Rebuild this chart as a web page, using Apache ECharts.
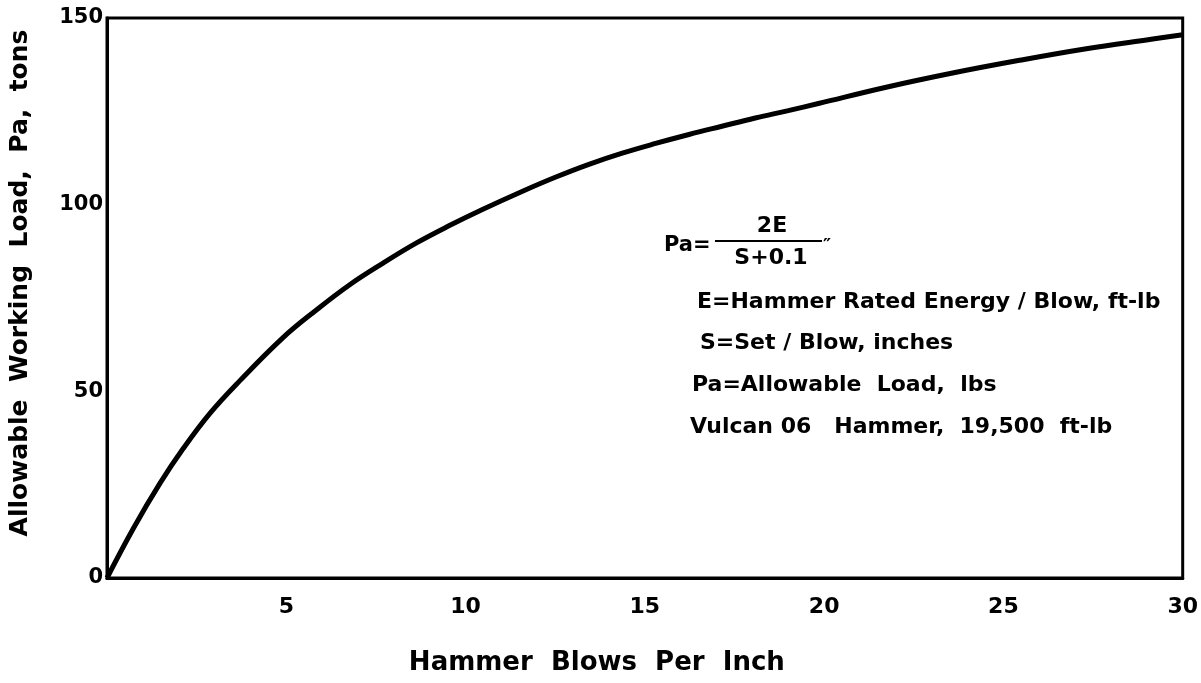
<!DOCTYPE html>
<html>
<head>
<meta charset="utf-8">
<script src="https://cdn.jsdelivr.net/npm/echarts@6/dist/echarts.min.js"></script>
<style>
html, body { margin: 0; padding: 0; background: #fff; }
#chart { width: 1201px; height: 683px; }
</style>
</head>
<body>
<div id="chart"></div>
<script>
// curve: blows per inch -> allowable load (tons)
var blows = [0, 0.73, 1.48, 2.12, 2.87, 3.7, 4.91, 5.84, 6.76, 7.69, 8.62, 9.55, 10.47, 11.59, 12.52, 13.44, 14.37, 15.3, 16.23, 17.15, 18.08, 19.0, 19.84, 21.7, 23.55, 25.41, 27.27, 29.12, 30];
var loadTons = [0, 13.2, 25.4, 34.6, 44.1, 52.8, 64.4, 71.8, 78.5, 84.3, 89.7, 94.4, 98.7, 103.6, 107.4, 110.8, 113.8, 116.4, 118.8, 121.0, 123.2, 125.2, 127.1, 131.4, 135.2, 138.6, 141.7, 144.3, 145.5];
var xTicks = [5, 10, 15, 20, 25, 30];
var yTicks = [0, 50, 100, 150];

var noteLines = [
    'E=Hammer Rated Energy / Blow, ft-lb',
    'S=Set / Blow, inches',
    'Pa=Allowable  Load,  lbs',
    'Vulcan 06   Hammer,  19,500  ft-lb'
];

var pts = [];
for (var i = 0; i < blows.length; i++) {
    pts.push([blows[i], loadTons[i]]);
}

var fnt = '"DejaVu Sans", sans-serif';
var myChart = echarts.init(document.getElementById('chart'));

var graphics = [
    { type: 'text', x: 664, y: 246, style: { text: 'Pa=', fontSize: 21, fontFamily: fnt, fontWeight: 'bold', fill: '#000', verticalAlign: 'middle' } },
    { type: 'text', x: 772, y: 226, style: { text: '2E', fontSize: 22, fontFamily: fnt, fontWeight: 'bold', fill: '#000', align: 'center', verticalAlign: 'middle' } },
    { type: 'line', shape: { x1: 715, y1: 241, x2: 822, y2: 241 }, style: { stroke: '#000', lineWidth: 2 } },
    { type: 'text', x: 771, y: 258, style: { text: 'S+0.1', fontSize: 22, fontFamily: fnt, fontWeight: 'bold', fill: '#000', align: 'center', verticalAlign: 'middle' } },
    { type: 'text', x: 823, y: 246, style: { text: '\u2033', fontSize: 18, fontFamily: fnt, fontWeight: 'bold', fill: '#000', verticalAlign: 'middle' } }
];
var noteX = [697, 700, 692, 690];
var noteY = [302, 343, 385, 427];
for (var j = 0; j < noteLines.length; j++) {
    graphics.push({
        type: 'text', x: noteX[j], y: noteY[j],
        style: { text: noteLines[j], fontSize: 22, fontFamily: fnt, fontWeight: 'bold', fill: '#000', verticalAlign: 'middle' }
    });
}

var option = {
    backgroundColor: '#fff',
    animation: false,
    grid: {
        left: 107, right: 16, top: 18, bottom: 105,
        show: true, borderColor: '#000', borderWidth: 3
    },
    xAxis: {
        type: 'value', min: 0, max: 30, interval: 5,
        name: 'Hammer  Blows  Per  Inch',
        nameLocation: 'middle', nameGap: 72,
        nameTextStyle: { fontSize: 26, fontFamily: fnt, fontWeight: 'bold', color: '#000', padding: [0, 96, 0, 0] },
        axisLine: { show: true, lineStyle: { color: '#000', width: 3 } },
        axisTick: { show: false },
        splitLine: { show: false },
        axisLabel: {
            margin: 18, fontSize: 22, fontFamily: fnt, fontWeight: 'bold', color: '#000',
            formatter: function (v) { return xTicks.indexOf(v) >= 0 ? String(v) : ''; }
        }
    },
    yAxis: {
        type: 'value', min: 0, max: 150, interval: 50,
        name: 'Allowable  Working  Load,  Pa,  tons',
        nameLocation: 'middle', nameGap: 74, nameRotate: 90,
        nameTextStyle: { fontSize: 25, fontFamily: fnt, fontWeight: 'bold', color: '#000', padding: [0, 0, 0, 30] },
        axisLine: { show: true, lineStyle: { color: '#000', width: 3 } },
        axisTick: { show: false },
        splitLine: { show: false },
        axisLabel: {
            margin: 4, fontSize: 21, fontFamily: fnt, fontWeight: 'bold', color: '#000',
            formatter: function (v) { return yTicks.indexOf(v) >= 0 ? String(v) : ''; }
        }
    },
    series: [{
        type: 'line',
        data: pts,
        smooth: 0.4,
        symbol: 'none',
        lineStyle: { color: '#000', width: 5 }
    }],
    graphic: graphics
};
myChart.setOption(option);
</script>
</body>
</html>
